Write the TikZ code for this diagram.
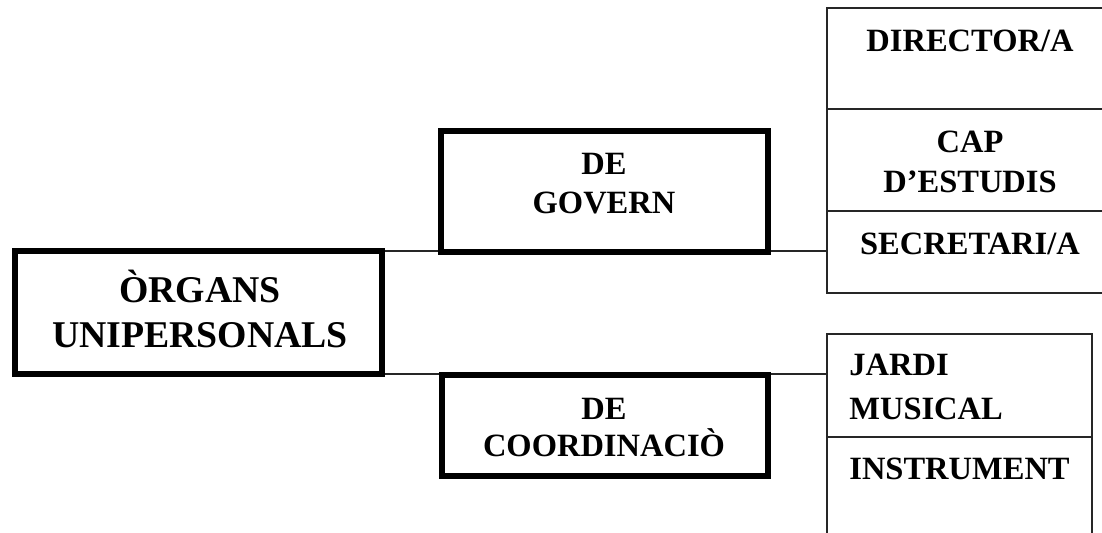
\documentclass[tikz,border=0pt]{standalone}
\usepackage{fontspec}
\setmainfont{Liberation Serif}
\usetikzlibrary{positioning,backgrounds}

\def\px{0.02cm}

\tikzset{
  orgbox/.style={draw, line width=3.4pt, inner sep=0pt, outer sep=0pt},
  cell/.style={draw=black!85, line width=0.85pt, inner sep=0pt, outer sep=0pt},
  conn/.style={draw=black!85, line width=0.85pt},
  lbl/.style={font=\bfseries\fontsize{18.5}{22.7}\selectfont, align=center,
              inner sep=0pt, anchor=base},
}

\begin{document}
\begin{tikzpicture}[x=\px, y=-\px]
  \useasboundingbox (0,0) rectangle (1102,533);
  \clip (0,0) rectangle (1102,533);

  % Thick boxes
  \node[orgbox, minimum width=367*\px, minimum height=123*\px] (organs) at (198.5,312.5) {};
  \node[orgbox, minimum width=327*\px, minimum height=121*\px] (govern) at (604.5,191.5) {};
  \node[orgbox, minimum width=326*\px, minimum height=101*\px] (coord)  at (605,425.5) {};

  % Right column, top
  \node[cell, minimum width=286*\px, minimum height=101*\px] (director) at (970,58.5) {};
  \node[cell, minimum width=286*\px, minimum height=102*\px, below=0pt of director] (cap) {};
  \node[cell, minimum width=286*\px, minimum height=82*\px, below=0pt of cap] (secretari) {};

  % Right column, bottom
  \node[cell, minimum width=265*\px, minimum height=103*\px] (jardi) at (959.5,385.5) {};
  \node[cell, minimum width=265*\px, minimum height=123*\px, below=0pt of jardi] (instrument) {};

  % Connectors
  \begin{scope}[on background layer]
    \draw[conn] (organs.north east) -- (organs.north east -| secretari.west);
    \draw[conn] (organs.south east) -- (organs.south east -| jardi.west);
  \end{scope}

  % Texts
  \node[lbl, font=\bfseries\fontsize{21.5}{26}\selectfont] (organstxt) at (200,348) {ÒRGANS\\UNIPERSONALS};
  \node[lbl] (governtxt) at (604,214) {DE\\GOVERN};
  \node[lbl, font=\bfseries\fontsize{18.5}{21.5}\selectfont] (coordtxt) at (604,457) {DE\\COORDINACIÒ};
  \node[lbl] (directortxt) at (970,52) {DIRECTOR/A};
  \node[lbl, font=\bfseries\fontsize{18.5}{23.2}\selectfont] (captxt) at (970,193) {CAP\\D’ESTUDIS};
  \node[lbl] (secretaritxt) at (970,255) {SECRETARI/A};
  \node[lbl, align=left, anchor=base west, font=\bfseries\fontsize{18.5}{25}\selectfont] (jarditxt) at (849,419) {JARDI\\MUSICAL};
  \node[lbl, anchor=base west] (instrumenttxt) at (849,479) {INSTRUMENT};
\end{tikzpicture}
\end{document}
